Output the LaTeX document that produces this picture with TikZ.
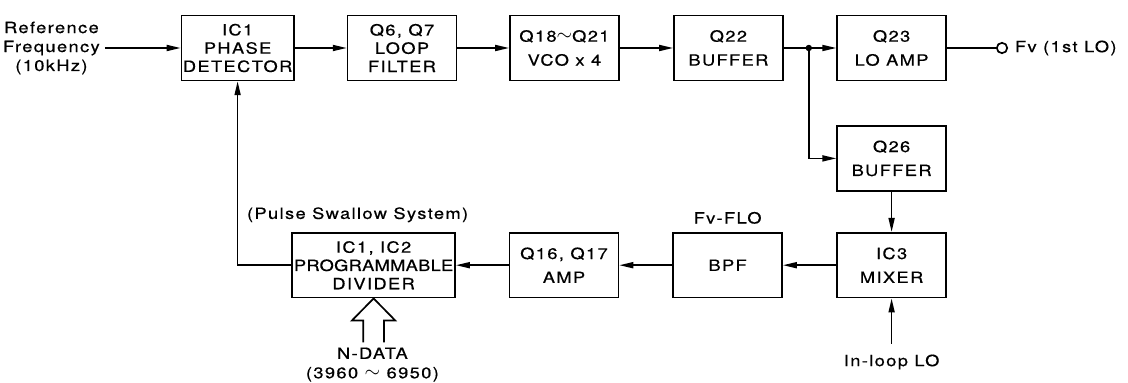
\documentclass[tikz,border=0pt]{standalone}
\usepackage{fontspec}
\setmainfont{TeX Gyre Heros}[FakeStretch=1.18, LetterSpace=9, FakeBold=0.5]
\usetikzlibrary{arrows.meta, positioning, calc}

\newcommand{\wave}{\raisebox{0.1ex}{\scalebox{1.3}{$\sim$}}}

\begin{document}
\begin{tikzpicture}[
  blk/.style={draw, line width=1.2pt, minimum width=2.72cm, minimum height=1.62cm,
              align=center, inner sep=1pt, font=\fontsize{11}{13}\selectfont},
  sig/.style={line width=1.2pt, -{Triangle[length=3.5mm,width=1.5mm]}},
  lbl/.style={align=center, font=\fontsize{11}{13.5}\selectfont}
]
  \useasboundingbox (0,0) rectangle (28.2,9.55);

  % --- Forward path (top row) ---
  \node[lbl, anchor=east, inner sep=0.12cm] (ref) at (2.62,8.35) {Reference\\Frequency\\(10kHz)};
  \node[blk] (pd)    at (5.94,8.35)  {IC1\\PHASE\\DETECTOR};
  \node[blk] (lf)    at (10.05,8.35) {Q6, Q7\\LOOP\\FILTER};
  \node[blk] (vco)   at (14.11,8.35) {Q18\wave Q21\\[4pt]VCO x 4};
  \node[blk] (buf)   at (18.21,8.35) {Q22\\[4pt]BUFFER};
  \node[blk] (loamp) at (22.29,8.35) {Q23\\[4pt]LO AMP};
  \coordinate (jn) at (20.22,8.35);

  \draw[sig] (ref.east) -- (pd.west);
  \draw[sig] (pd.east) -- (lf.west);
  \draw[sig] (lf.east) -- (vco.west);
  \draw[sig] (vco.east) -- (buf.west);
  \draw[sig] (buf.east) -- (loamp.west);
  \fill (jn) circle (0.08);

  % Output terminal
  \node[draw, circle, line width=1.2pt, minimum size=0.26cm, inner sep=0pt] (out) at (25.05,8.35) {};
  \draw[line width=1.2pt] (loamp.east) -- (out.west);
  \node[lbl, anchor=west] (fv) at (25.25,8.35) {Fv (1st LO)};

  % --- Mixer branch ---
  \node[blk] (buf2) at (22.29,5.59) {Q26\\[4pt]BUFFER};
  \draw[sig] (jn) |- (buf2.west);

  % --- Return path (bottom row) ---
  \node[blk] (mix) at (22.29,2.92) {IC3\\[4pt]MIXER};
  \node[blk] (bpf) at (18.19,2.92) {BPF};
  \node[blk] (amp) at (14.10,2.92) {Q16, Q17\\[4pt]AMP};
  \node[blk, minimum width=4.07cm] (div) at (9.34,2.92)
       {IC1, IC2\\{\addfontfeature{LetterSpace=2}PROGRAMMABLE}\\DIVIDER};

  \draw[sig] (buf2.south) -- (mix.north);
  \draw[sig] (mix.west) -- (bpf.east);
  \draw[sig] (bpf.west) -- (amp.east);
  \draw[sig] (amp.west) -- (div.east);
  \draw[sig] (div.west) -| (pd.south);

  \node[lbl, above=0.08cm of bpf] (flo) {Fv-FLO};
  \node[lbl] (psw) at (8.94,4.18) {(Pulse Swallow System)};

  % In-loop LO input
  \node[lbl] (lo) at (22.29,0.5) {In-loop LO};
  \draw[sig] ([yshift=0.15cm]lo.north) -- (mix.south);

  % N-DATA hollow arrow
  \draw[line width=1.2pt] ([xshift=-0.26cm,yshift=-1.1cm]div.south) -- ++(0,0.55) -- ++(-0.28,0)
       -- (div.south) -- ++(0.54,-0.55) -- ++(-0.28,0) -- ++(0,-0.55);
  \node[lbl, inner sep=1pt] (nd) at (9.31,0.72) {N-DATA};
  \node[lbl, inner sep=1pt, below=0.12cm of nd] (ndr) {(3960 \wave{} 6950)};
\end{tikzpicture}
\end{document}
